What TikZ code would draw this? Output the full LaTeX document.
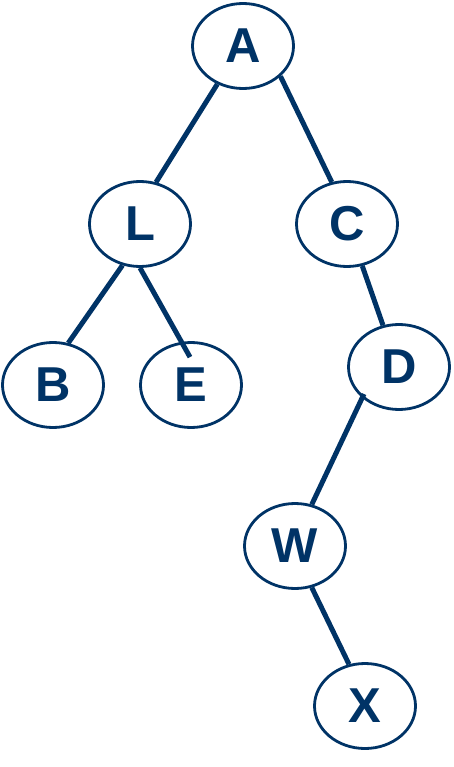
\documentclass[tikz,border=0pt]{standalone}
\usepackage{fontspec}
\setmainfont{Liberation Sans}
\usetikzlibrary{shapes.geometric,calc}
\definecolor{navy}{RGB}{0,51,102}
\tikzset{
  tnode/.style={ellipse, draw=navy, line width=2.8pt, fill=white, minimum width=101pt, minimum height=85pt, inner sep=0pt, text=navy, font=\fontsize{49}{49}\selectfont\bfseries},
  tedge/.style={draw=navy, line width=5pt}
}
\begin{document}
\begin{tikzpicture}[x=1pt,y=1pt]
\useasboundingbox (0,0) rectangle (453,-767);
\node[tnode] (A) at (243,-46) {A};
\node[tnode] (L) at (140,-224) {L};
\node[tnode] (C) at (347,-224) {C};
\node[tnode] (B) at (53,-385) {B};
\node[tnode] (E) at (191,-385) {E};
\node[tnode] (D) at (399,-367) {D};
\node[tnode] (W) at (295,-546) {W};
\node[tnode] (X) at (365,-706) {X};
\draw[tedge] (A.236) -- (L.69);
\draw[tedge] (A.321) -- (C.110);
\draw[tedge] (L.247) -- (B.70);
\draw[tedge] (L.south) -- ($(E.north)+(-1,-16)$);
\draw[tedge] (C.290) -- (D.111);
\draw[tedge] ($(D.center)+(-35,-27)$) -- (W.68);
\draw[tedge] (W.292) -- (X.111);
\end{tikzpicture}
\end{document}
